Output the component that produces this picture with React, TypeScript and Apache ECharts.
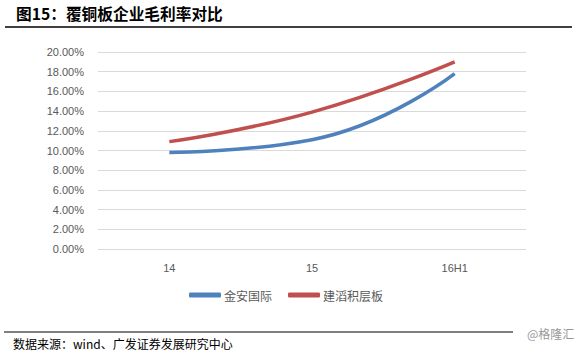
import React, { useEffect, useRef } from "react";
import * as echarts from "echarts";

const categories = ["14", "15", "16H1"];
const seriesNames = ["金安国际", "建滔积层板"];
const jinan = [9.8, 11.1, 17.8];
const jiantao = [10.9, 13.9, 19.0];
const colors = ["#4F81BD", "#C0504D"];
const titleText = "图15：覆铜板企业毛利率对比";
const sourceText = "数据来源：wind、广发证券发展研究中心";
const watermark = "@格隆汇";

export default function App() {
  const ref = useRef<HTMLDivElement>(null);
  useEffect(() => {
    const chart = echarts.init(ref.current!, null, { renderer: "svg" });
    chart.setOption({
      animation: false,
      backgroundColor: "#fff",
      grid: { left: 98, right: 61, top: 52, bottom: 105, containLabel: false },
      xAxis: {
        type: "category",
        data: categories,
        boundaryGap: true,
        axisLine: { show: false },
        axisTick: { show: false },
        axisLabel: { color: "#595959", fontSize: 11, fontFamily: "Liberation Sans, Arial", margin: 13 },
      },
      yAxis: {
        type: "value",
        min: 0,
        max: 20,
        interval: 2,
        axisLine: { show: false },
        axisTick: { show: false },
        axisLabel: {
          color: "#595959",
          fontSize: 11,
          fontFamily: "Liberation Sans, Arial",
          margin: 14,
          formatter: (v: number) => v.toFixed(2) + "%",
        },
        splitLine: { lineStyle: { color: "#d9d9d9", width: 1 } },
      },
      legend: {
        data: seriesNames,
        bottom: 48,
        left: 184,
        icon: "roundRect",
        itemWidth: 32,
        itemHeight: 5,
        itemGap: 16,
        textStyle: { color: "#595959", fontSize: 12, fontFamily: "Noto Sans CJK SC", padding: [0, 0, 0, -2] },
      },
      series: [
        {
          name: seriesNames[0],
          type: "line",
          smooth: 0.5,
          data: jinan,
          symbol: "none",
          lineStyle: { color: colors[0], width: 3.5 },
          itemStyle: { color: colors[0] },
        },
        {
          name: seriesNames[1],
          type: "line",
          smooth: 0.5,
          data: jiantao,
          symbol: "none",
          lineStyle: { color: colors[1], width: 3.5 },
          itemStyle: { color: colors[1] },
        },
      ],
      graphic: [
        {
          type: "text",
          left: 16,
          top: 6,
          style: {
            text: titleText,
            fontSize: 15.7,
            fontWeight: "bold",
            fill: "#000",
            fontFamily: "Noto Sans CJK SC",
          },
        },
        {
          type: "line",
          shape: { x1: 5, y1: 27, x2: 572, y2: 27 },
          style: { stroke: "#000", lineWidth: 1.5 },
        },
        {
          type: "line",
          shape: { x1: 4, y1: 332, x2: 513, y2: 332 },
          style: { stroke: "#000", lineWidth: 1.2 },
        },
        {
          type: "text",
          left: 13,
          top: 337,
          style: {
            text: sourceText,
            fontSize: 12,
            fill: "#000",
            fontFamily: "Noto Sans CJK SC",
          },
        },
        {
          type: "text",
          left: 527,
          top: 327,
          style: {
            text: watermark,
            fontSize: 12,
            fill: "#999",
            fontFamily: "Noto Sans CJK SC",
          },
        },
      ],
    });
    return () => chart.dispose();
  }, []);
  return (
    <div
      ref={ref}
      style={{ position: "fixed", left: 0, top: 0, width: 587, height: 354 }}
    />
  );
}
